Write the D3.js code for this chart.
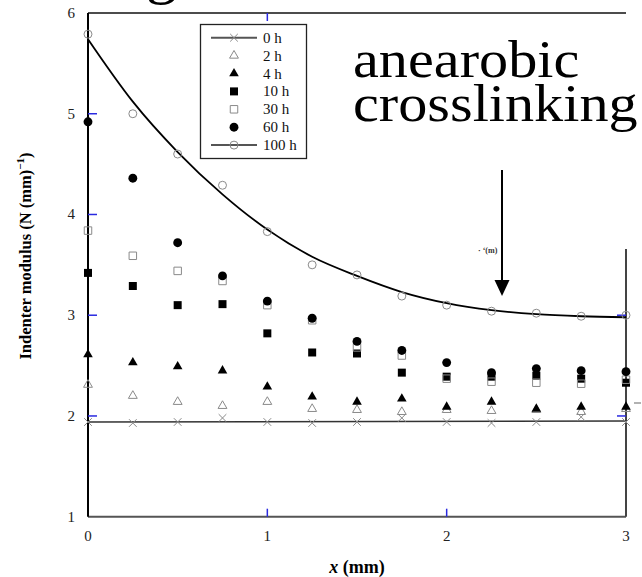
<!DOCTYPE html>
<html>
<head>
<meta charset="utf-8">
<script src="https://cdn.jsdelivr.net/npm/d3@7"></script>
<style>
  html, body { margin: 0; padding: 0; background: #fff; }
  svg { display: block; }
</style>
</head>
<body>
<svg id="chart" width="642" height="577" font-family="Liberation Serif, Times New Roman, serif"></svg>
<script>
// Indenter modulus along the sample, for several crosslinking times
const positions = [0, 0.25, 0.5, 0.75, 1, 1.25, 1.5, 1.75, 2, 2.25, 2.5, 2.75, 3];
const h0   = [1.94, 1.93, 1.94, 1.98, 1.94, 1.93, 1.94, 1.98, 1.94, 1.93, 1.94, 1.99, 1.94];
const h2   = [2.31, 2.20, 2.14, 2.10, 2.14, 2.07, 2.06, 2.04, 2.06, 2.05, 2.06, 2.04, 2.07];
const h4   = [2.61, 2.53, 2.49, 2.45, 2.29, 2.19, 2.14, 2.17, 2.09, 2.14, 2.07, 2.09, 2.09];
const h10  = [3.42, 3.29, 3.10, 3.11, 2.82, 2.63, 2.62, 2.43, 2.39, 2.39, 2.40, 2.37, 2.33];
const h30  = [3.84, 3.59, 3.44, 3.34, 3.10, 2.95, 2.68, 2.60, 2.37, 2.34, 2.33, 2.32, 2.36];
const h60  = [4.92, 4.36, 3.72, 3.39, 3.14, 2.97, 2.74, 2.65, 2.53, 2.43, 2.47, 2.45, 2.44];
const h100 = [5.79, 5.00, 4.60, 4.29, 3.83, 3.50, 3.40, 3.19, 3.10, 3.04, 3.02, 2.99, 3.00];

// Fitted trend lines for 0 h and 100 h
const fit0X = [0, 3];
const fit0 = [1.94, 1.95];
const fit100 = [5.74, 5.12, 4.62, 4.20, 3.85, 3.58, 3.39, 3.23, 3.12, 3.05, 3.01, 2.99, 2.98];

const seriesNames = ["0 h", "2 h", "4 h", "10 h", "30 h", "60 h", "100 h"];
const xTicks = [0, 1, 2, 3];
const yTicks = [1, 2, 3, 4, 5, 6];
const annotationLines = ["anearobic", "crosslinking"];

const FONT = "Liberation Serif, Times New Roman, serif";
const svg = d3.select("#chart");
svg.append("rect").attr("width", 642).attr("height", 577).attr("fill", "#fff");

const x = d3.scaleLinear().domain([0, 3]).range([88, 626]);
const y = d3.scaleLinear().domain([1, 6]).range([516.7, 13]);

const GRAY = "#8a8a8a";
const BLUE = "#2a2ae0";

// marker styles per series
const styles = {
  "0 h":   { type: d3.symbolX || d3.symbolCross, size: 40, fill: "none", stroke: GRAY, sw: 1 },
  "2 h":   { type: d3.symbolTriangle, size: 34, fill: "none", stroke: GRAY, sw: 1 },
  "4 h":   { type: d3.symbolTriangle, size: 40, fill: "#000", stroke: "none", sw: 0 },
  "10 h":  { type: d3.symbolSquare, size: 64, fill: "#000", stroke: "none", sw: 0 },
  "30 h":  { type: d3.symbolSquare, size: 56, fill: "none", stroke: GRAY, sw: 1 },
  "60 h":  { type: d3.symbolCircle, size: 62, fill: "#000", stroke: "none", sw: 0 },
  "100 h": { type: d3.symbolCircle, size: 50, fill: "none", stroke: GRAY, sw: 1 }
};
const seriesValues = { "0 h": h0, "2 h": h2, "4 h": h4, "10 h": h10, "30 h": h30, "60 h": h60, "100 h": h100 };

function marker(g, name, cx, cy) {
  const s = styles[name];
  g.append("path")
    .attr("d", d3.symbol().type(s.type).size(s.size)())
    .attr("transform", `translate(${cx},${cy})`)
    .attr("fill", s.fill)
    .attr("stroke", s.stroke)
    .attr("stroke-width", s.sw);
}

// frame
const frame = svg.append("g");
frame.append("line").attr("x1", x(0)).attr("x2", x(3)).attr("y1", y(6)).attr("y2", y(6))
  .attr("stroke", "#111").attr("stroke-width", 1.5);
frame.append("line").attr("x1", x(0)).attr("x2", x(3)).attr("y1", y(1)).attr("y2", y(1))
  .attr("stroke", "#555").attr("stroke-width", 2);
frame.append("line").attr("x1", x(0)).attr("x2", x(0)).attr("y1", y(6)).attr("y2", y(1))
  .attr("stroke", "#000").attr("stroke-width", 2);
frame.append("line").attr("x1", x(3)).attr("x2", x(3)).attr("y1", 249).attr("y2", y(1))
  .attr("stroke", "#444").attr("stroke-width", 2);
frame.append("line").attr("x1", 634).attr("x2", 641).attr("y1", 403).attr("y2", 403)
  .attr("stroke", "#999").attr("stroke-width", 1.5);

// inward tick marks
const ticks = svg.append("g").attr("stroke", BLUE).attr("stroke-width", 1.5);
[2, 3, 4, 5].forEach(v => ticks.append("line").attr("x1", x(0)).attr("x2", x(0) + 9).attr("y1", y(v)).attr("y2", y(v)));
[2, 3].forEach(v => ticks.append("line").attr("x1", x(3) - 9).attr("x2", x(3)).attr("y1", y(v)).attr("y2", y(v)));
[1, 2].forEach(v => ticks.append("line").attr("x1", x(v)).attr("x2", x(v)).attr("y1", y(1)).attr("y2", y(1) - 8));
ticks.append("line").attr("x1", x(1)).attr("x2", x(1)).attr("y1", y(6)).attr("y2", y(6) + 8);

// tick labels
svg.append("g").selectAll("text").data(yTicks).join("text")
  .attr("font-family", FONT)
  .attr("x", 75).attr("y", d => y(d) + 5)
  .attr("text-anchor", "end").attr("font-size", 15).attr("fill", "#222").text(d => d);
svg.append("g").selectAll("text").data(xTicks).join("text")
  .attr("font-family", FONT)
  .attr("x", d => x(d)).attr("y", 540.5)
  .attr("text-anchor", "middle").attr("font-size", 15).attr("fill", "#222").text(d => d);

// axis titles
const xt = svg.append("text").attr("font-family", FONT).attr("x", 357).attr("y", 573).attr("text-anchor", "middle")
  .attr("font-size", 18).attr("font-weight", "bold");
xt.append("tspan").attr("font-style", "italic").text("x");
xt.append("tspan").text(" (mm)");

const yt = svg.append("text").attr("font-family", FONT).attr("transform", "translate(31,256) rotate(-90)")
  .attr("text-anchor", "middle").attr("font-size", 16.5).attr("font-weight", "bold");
yt.append("tspan").text("Indenter modulus (N (mm)");
yt.append("tspan").attr("dy", -7).attr("font-size", 11).text("−1");
yt.append("tspan").attr("dy", 7).text(")");

// fitted lines
svg.append("path")
  .datum(fit0X.map((d, i) => [d, fit0[i]]))
  .attr("d", d3.line().x(d => x(d[0])).y(d => y(d[1])))
  .attr("fill", "none").attr("stroke", "#333").attr("stroke-width", 1.5);
svg.append("path")
  .datum(positions.map((d, i) => [d, fit100[i]]))
  .attr("d", d3.line().x(d => x(d[0])).y(d => y(d[1])).curve(d3.curveMonotoneX))
  .attr("fill", "none").attr("stroke", "#000").attr("stroke-width", 1.8);

// data markers
const pts = svg.append("g");
seriesNames.forEach(name => {
  seriesValues[name].forEach((v, i) => marker(pts, name, x(positions[i]), y(v)));
});

// legend
const lg = svg.append("g");
lg.append("rect").attr("x", 200.5).attr("y", 24.5).attr("width", 106).attr("height", 134)
  .attr("fill", "#fff").attr("stroke", "#222").attr("stroke-width", 1.3);
seriesNames.forEach((name, i) => {
  const cy = 37.7 + i * 17.9;
  if (name === "0 h" || name === "100 h") {
    lg.append("line").attr("x1", 211).attr("x2", 257).attr("y1", cy).attr("y2", cy)
      .attr("stroke", "#555").attr("stroke-width", 2);
  }
  marker(lg, name, 234, cy);
  lg.append("text").attr("font-family", FONT).attr("x", 263).attr("y", cy + 5)
    .attr("font-size", 15).attr("fill", "#111").text(name);
});

// annotation: two-line label (slightly widened type) with a downward arrow
const ann = svg.append("g");
const annText = ann.append("text").attr("font-family", FONT).attr("font-size", 52)
  .attr("transform", "translate(353,0) scale(1.12,1)");
annotationLines.forEach((t, i) => {
  annText.append("tspan").attr("x", 0).attr("y", 77 + i * 44.5).text(t);
});
ann.append("line").attr("x1", 502).attr("x2", 502).attr("y1", 170).attr("y2", 282)
  .attr("stroke", "#000").attr("stroke-width", 2);
ann.append("path").attr("d", "M494.5,280 L509.5,280 L502,296 Z").attr("fill", "#000");
ann.append("text").attr("font-family", FONT).attr("x", 478).attr("y", 253).attr("font-size", 8)
  .attr("font-weight", "bold").attr("fill", "#333").text("· ʻ(m)");
// descender of a heading cut off above the frame
svg.append("text").attr("font-family", FONT).attr("x", 146).attr("y", -8).attr("font-size", 62).text("g");
</script>
</body>
</html>
